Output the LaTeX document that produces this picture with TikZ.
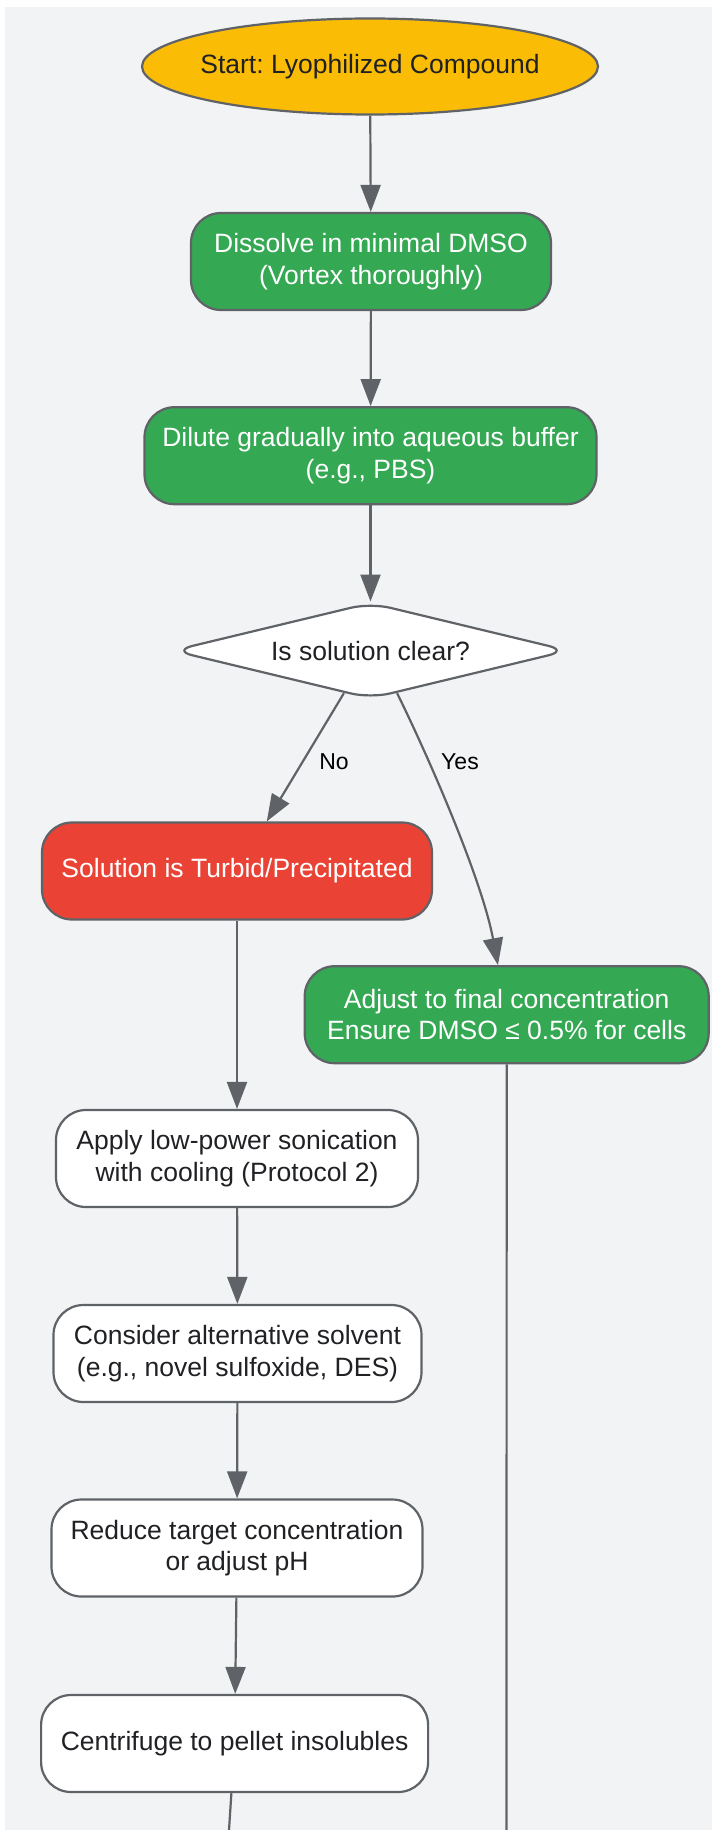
\documentclass[tikz,border=0pt]{standalone}
\usepackage{fontspec}
\setmainfont{Liberation Sans}
\frenchspacing
\usetikzlibrary{shapes.geometric,arrows.meta}
\definecolor{bgcol}{HTML}{F1F3F4}
\definecolor{edgecol}{HTML}{5F6368}
\definecolor{startcol}{HTML}{FBBC05}
\definecolor{okcol}{HTML}{34A853}
\definecolor{badcol}{HTML}{EA4335}
\definecolor{txtcol}{HTML}{202124}
\tikzset{
    nodefont/.style={font=\fontsize{26.5}{31.5}\selectfont},
    box/.style={draw=edgecol, line width=2.2pt, rounded corners=30pt, minimum height=97pt,
        align=center, inner sep=0pt, nodefont},
    whitebox/.style={box, fill=white, text=txtcol},
    greenbox/.style={box, fill=okcol, text=white},
    redbox/.style={box, fill=badcol, text=white},
    startnode/.style={ellipse, draw=edgecol, line width=2.2pt, fill=startcol, text=txtcol,
        minimum width=456pt, minimum height=96pt, inner xsep=-12pt, inner ysep=0pt, nodefont},
    decision/.style={diamond, aspect=5, draw=edgecol, line width=2.2pt, fill=white, text=txtcol,
        minimum width=396pt, minimum height=96pt, inner sep=0pt, rounded corners=20pt, nodefont},
    flow/.style={draw=edgecol, line width=2.2pt, -{Triangle[length=27pt,width=20pt]}},
    plainflow/.style={draw=edgecol, line width=2.2pt},
    edgelabel/.style={font=\fontsize{23}{27}\selectfont, text=black}
}
\begin{document}
\begin{tikzpicture}[x=1pt, y=-1pt]
            \useasboundingbox (0,0) rectangle (712,1830);
            \fill[bgcol] (5,7) rectangle (712,1830);

            \node[startnode] (start) at (370,66.5) {Start: Lyophilized Compound};
            \node[greenbox, minimum width=360pt] (dissolve) at (371,261.5) {Dissolve in minimal DMSO\\(Vortex thoroughly)};
            \node[greenbox, minimum width=452pt] (dilute) at (370.5,455.7) {Dilute gradually into aqueous buffer\\(e.g., PBS)};
            \node[decision] (clear) at (370.5,650.6) {Is solution clear?};

            \node[redbox, minimum width=390pt] (turbid) at (237,871) {Solution is Turbid/Precipitated};
            \node[greenbox, minimum width=404pt] (adjust) at (506.7,1014.7) {Adjust to final concentration\\Ensure DMSO ≤ 0.5\% for cells};

            \node[whitebox, minimum width=362pt] (sonic) at (237,1158.5) {Apply low-power sonication\\with cooling (Protocol 2)};
            \node[whitebox, minimum width=368pt] (solvent) at (237.5,1353.5) {Consider alternative solvent\\(e.g., novel sulfoxide, DES)};
            \node[whitebox, minimum width=371pt] (reduce) at (237,1548) {Reduce target concentration\\or adjust pH};
            \node[whitebox, minimum width=387pt] (centri) at (234.6,1743.5) {Centrifuge to pellet insolubles};

            \coordinate (centriout) at (229,1830);
            \coordinate (adjustout) at (506.5,1830);

            \draw[flow] (start) -- (dissolve);
            \draw[flow] (dissolve) -- (dilute);
            \draw[flow] (dilute) -- (clear);
            \draw[flow] (clear.238) -- (turbid);
            \draw[flow] (clear.302) .. controls (430,760) and (482,880) .. (adjust.100);
            \draw[flow] (turbid) -- (sonic);
            \draw[flow] (sonic) -- (solvent);
            \draw[flow] (solvent) -- (reduce);
            \draw[flow] (reduce) -- (centri);
            \draw[plainflow] (centri) -- (centriout);
            \draw[plainflow] (adjust) -- (adjustout);

            \node[edgelabel] (nolab) at (334,762) {No};
            \node[edgelabel] (yeslab) at (460,762) {Yes};
        \end{tikzpicture}
\end{document}
